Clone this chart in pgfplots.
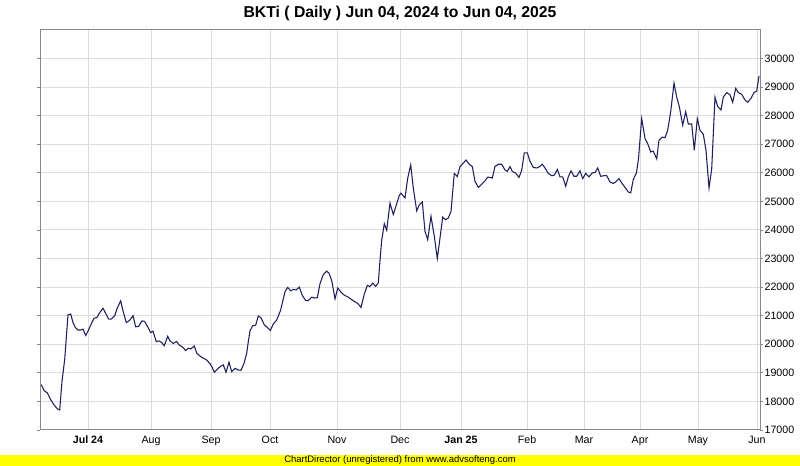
\documentclass[border=0pt]{standalone}
\usepackage{fontspec}
\setmainfont{Liberation Sans}
\usepackage{pgfplots}
\usepackage{pgfplotstable}
\pgfplotsset{compat=1.18}
\definecolor{linec}{HTML}{1F1F5F}
\definecolor{gridc}{HTML}{DCDCDC}
\definecolor{axisc}{HTML}{888888}
\definecolor{cdyellow}{HTML}{FFFF00}
\pgfplotstableread{
x v
41.3 18590
44 18380
47.3 18300
50.7 18060
54 17880
57.3 17740
59.7 17700
62 18700
64.7 19470
68 21030
70.7 21060
73 20760
75.3 20590
78 20500
80.7 20500
83 20530
85.7 20310
88 20460
90.7 20670
94 20910
97 20940
99.7 21110
103 21260
105.7 21080
108.7 20880
111.3 20880
114.7 21000
117.3 21270
120.7 21520
123 21170
126.3 20760
129.7 20840
133 21000
135.7 20610
138.7 20630
142 20820
144.7 20800
148 20590
150.7 20410
153 20460
156.3 20090
159 20120
161.7 20060
164.3 19950
167.7 20280
170 20120
173.3 20030
176.7 20100
179 19980
182.3 19910
185.7 19780
188.3 19860
191 19840
194.3 19940
196.7 19690
200 19590
203.3 19510
206.7 19450
210 19320
212.3 19190
214.3 19020
217.7 19140
221 19240
223.3 19280
226 19020
229 19370
231.7 19040
235 19160
238.3 19100
241 19090
244 19330
246.7 19690
248.3 20090
250 20470
252.7 20650
255.7 20670
258.3 20990
261 20930
264.3 20680
267.7 20580
270.3 20480
273.3 20710
276.7 20850
280.5 21180
285 21840
287.7 21990
290.7 21870
293.3 21920
296 21900
299.3 22000
302.3 21710
305.7 21530
308.3 21530
311.7 21650
314.3 21620
317.3 21630
320 22120
323.3 22440
326.7 22560
329 22490
331.7 22230
335 21590
337.7 21970
341 21820
344.3 21720
347.7 21660
351 21580
354.3 21500
357.7 21430
361 21290
364.3 21760
367.3 22060
370 22020
372.7 22140
375.7 22030
378.3 22150
380 22940
381.7 23640
384.3 24220
386.7 23990
390 24940
393.3 24540
396.7 24920
399.3 25210
401 25290
405 25120
407.7 25810
410.7 26280
413.3 25470
416.7 24670
419.3 24880
422.3 24980
425 23950
427.7 23660
431 24480
434.3 23780
437.3 23000
440 23720
442.7 24450
445.7 24360
448.3 24420
451 24650
454.3 25980
457.3 25870
460 26220
463.3 26340
466 26450
469 26310
472.3 26220
475 25700
478.3 25490
481.7 25600
485 25720
487.7 25850
490 25840
492.3 25820
495 26220
498.3 26300
501.7 26300
505 26100
507.3 26050
510 26220
512.3 26050
515.7 25990
519 25840
521.7 26090
524.3 26700
527.3 26700
530 26400
533.3 26190
536.7 26170
539.3 26210
542.3 26300
545 26170
548.3 25980
551.7 25900
554.3 25920
557.3 26120
560 25860
562.7 25860
565.7 25530
568.3 25860
571 26070
574 25880
576.7 25880
580 26070
582.7 25800
585.7 25980
589 25860
592.3 26000
595 26010
597.7 26170
600.7 25880
604 25900
606.7 25900
610 25680
613.3 25630
616 25690
619 25800
621.7 25650
625 25490
628.3 25330
630.7 25300
633.3 25770
636.5 26000
638.5 26500
641.7 27900
645 27200
647.7 27020
650.7 26730
653.3 26760
656.7 26490
659 27140
662.3 27250
665 27230
667.7 27490
670.7 28140
674 29140
676.7 28650
679.3 28320
682.7 27670
685.7 28140
688.3 27710
691.7 27710
694.3 26790
697.3 27900
700 27490
703.3 27350
706 26790
709 25470
711.7 26140
715 28650
717.7 28320
721 28200
723.3 28650
726.7 28810
730 28730
732.7 28470
735.7 28960
738.3 28810
741.7 28750
745 28550
747.7 28470
751 28610
754 28810
756.7 28860
759 29390
}\pricedata
\begin{document}
\begin{tikzpicture}
\path[use as bounding box] (0,0) rectangle (600pt,349.5pt);
\fill[white] (0,0) rectangle (600pt,349.5pt);
\fill[cdyellow] (0,0) rectangle (600pt,8.25pt);
\node[font=\fontsize{7.1}{8}\selectfont, inner sep=0pt] at (300pt,4.1pt) {ChartDirector (unregistered) from www.advsofteng.com};
\node[font=\bfseries\fontsize{11.8}{13}\selectfont, inner sep=0pt] at (300pt,339.5pt) {BKTi ( Daily ) Jun 04, 2024 to Jun 04, 2025};
\begin{axis}[
  at={(30pt,27pt)}, anchor=south west,
  scale only axis, width=540pt, height=300pt,
  xmin=40, xmax=760, ymin=17000, ymax=31000,
  ytick={17000,18000,...,30000},
  scaled ticks=false,
  xtick={88,151,211,270,337,400,461,527,584,640,698,757},
  xticklabels={\textbf{Jul 24},Aug,Sep,Oct,Nov,Dec,\textbf{Jan 25},Feb,Mar,Apr,May,Jun},
  yticklabel pos=right,
  tick align=outside,
  xtick style={draw=none},
  ytick style={color=axisc, line width=0.6pt},
  major tick length=2.25pt,
  grid=major,
  major grid style={color=gridc, line width=0.75pt},
  axis line style={color=axisc, line width=0.75pt},
  tick label style={font=\fontsize{8}{9}\selectfont},
  yticklabel style={inner xsep=1pt},
  xticklabel style={inner ysep=2pt},
  /pgf/number format/assume math mode=true,
  /pgf/number format/1000 sep={},
  /pgf/number format/fixed,
]
\addplot[color=linec, line width=0.8pt, mark=none] table[x=x,y=v] {\pricedata};
\end{axis}
\end{tikzpicture}
\end{document}
